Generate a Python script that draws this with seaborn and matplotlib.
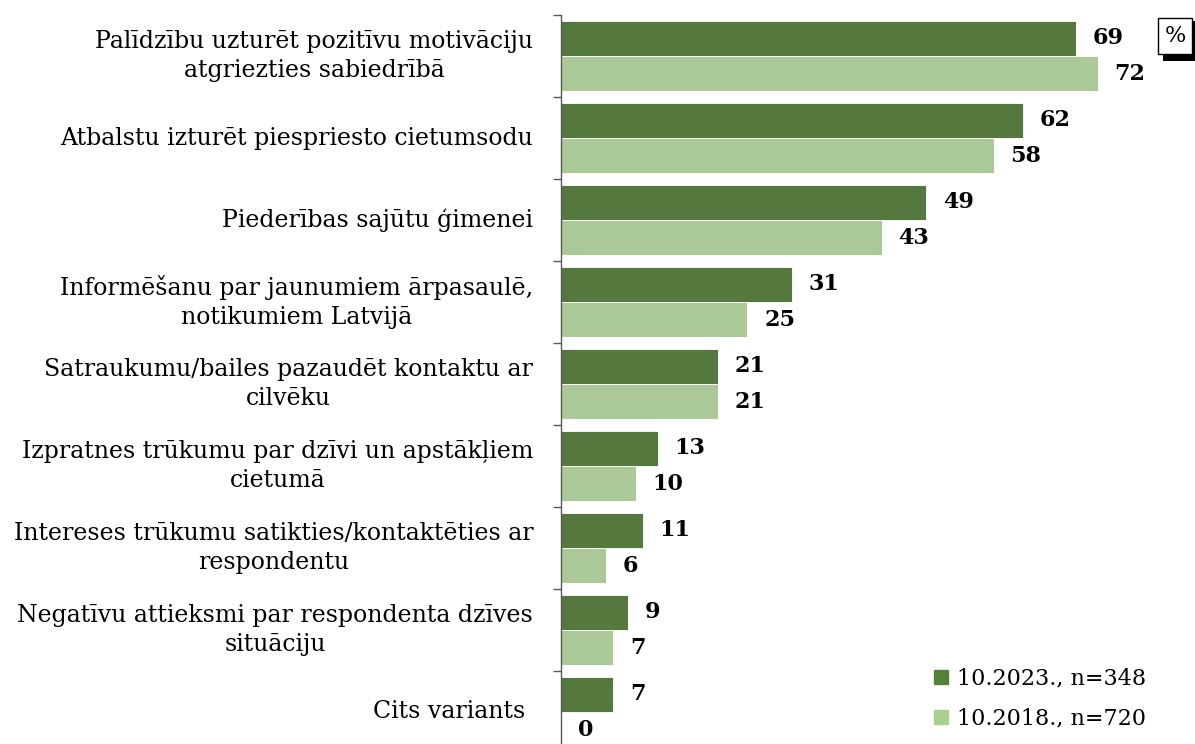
import matplotlib.pyplot as plt
import numpy as np
import pandas as pd
import seaborn as sns
from matplotlib.lines import Line2D
from matplotlib.patches import Rectangle

categories = [
    "Palīdzību uzturēt pozitīvu motivāciju\natgriezties sabiedrībā",
    "Atbalstu izturēt piespriesto cietumsodu",
    "Piederības sajūtu ģimenei",
    "Informēšanu par jaunumiem ārpasaulē,\nnotikumiem Latvijā",
    "Satraukumu/bailes pazaudēt kontaktu ar\ncilvēku",
    "Izpratnes trūkumu par dzīvi un apstākļiem\ncietumā",
    "Intereses trūkumu satikties/kontaktēties ar\nrespondentu",
    "Negatīvu attieksmi par respondenta dzīves\nsituāciju",
    "Cits variants ",
]
series = ["10.2023., n=348", "10.2018., n=720"]
values_2023 = [69, 62, 49, 31, 21, 13, 11, 9, 7]
values_2018 = [72, 58, 43, 25, 21, 10, 6, 7, 0]
colors = ["#538135", "#A9D18E"]

df = pd.DataFrame({
    "cat": categories * 2,
    "series": [series[0]] * len(categories) + [series[1]] * len(categories),
    "value": values_2023 + values_2018,
})

sns.set_style("white")
plt.rcParams["font.family"] = ["DejaVu Serif"]

fig = plt.figure(figsize=(11.95, 7.44), dpi=100)
ax = fig.add_axes([561 / 1195, 0, (1195 - 561) / 1195, (744 - 15) / 744])

sns.barplot(data=df, y="cat", x="value", hue="series", palette=colors,
            orient="h", width=0.86, gap=0, dodge=True, legend=False,
            edgecolor="white", linewidth=0.6, ax=ax)

ax.set_xlim(0, 85)
ax.set_ylim(-0.5 + 729 / 82, -0.5)
ax.set_xlabel("")
ax.set_ylabel("")
ax.set_xticks([])
ax.set_yticks(np.arange(-0.5, 8.5, 1))
ax.set_yticklabels([])
ax.tick_params(axis="y", length=6, width=1, color="#595959", direction="out", left=True)
for side in ["top", "right", "bottom"]:
    ax.spines[side].set_visible(False)
ax.spines["left"].set_color("#595959")
ax.spines["left"].set_linewidth(1)

for i, label in enumerate(categories):
    ax.annotate(label, xy=(0, i), xycoords=("axes fraction", "data"),
                xytext=(-20, 0), textcoords="offset points",
                ha="right", va="center", multialignment="center",
                linespacing=1.35, fontsize=17, color="black")

for container in ax.containers:
    ax.bar_label(container, padding=12, fontsize=16, fontweight="bold", color="black")

handles = [Line2D([0], [0], marker="s", linestyle="none", markersize=10,
                  markerfacecolor=c, markeredgecolor=c) for c in colors]
ax.legend(handles, series, loc="lower right", bbox_to_anchor=(0.945, 0.0),
          frameon=False, fontsize=16, handletextpad=0.1, labelspacing=0.8,
          borderaxespad=0.25, handlelength=1.2, labelcolor="black")

# "%" box with shadow
fig.patches.append(Rectangle((1163 / 1195, 1 - 61 / 744), 40 / 1195, 40 / 744,
                             transform=fig.transFigure, facecolor="black",
                             edgecolor="none", zorder=2))
fig.text(1175 / 1195, 1 - 36 / 744, "%", ha="center", va="center", fontsize=16,
         zorder=3, color="black",
         bbox=dict(boxstyle="square,pad=0.3", facecolor="white", edgecolor="black", linewidth=1))

fig.savefig("out.png", dpi=100)
